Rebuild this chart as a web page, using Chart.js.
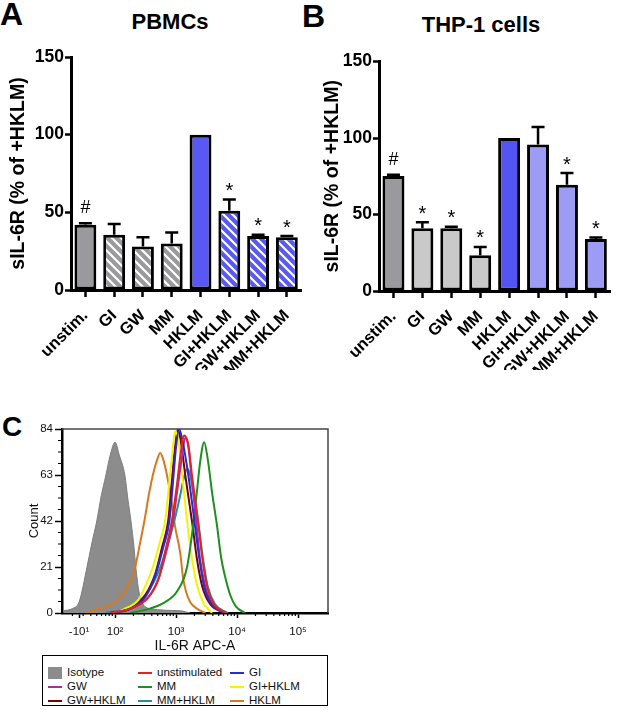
<!DOCTYPE html>
<html>
<head>
<meta charset="utf-8">
<script src="https://cdn.jsdelivr.net/npm/chart.js@4.4.0/dist/chart.umd.min.js"></script>
<style>
  body { margin: 0; background: #fff; width: 619px; height: 710px; position: relative; overflow: hidden; font-family: "Liberation Sans", Arial, sans-serif; color: #000; }
  .abs { position: absolute; }
  .letter { font-weight: bold; line-height: 1; }
  .ptitle { font-weight: bold; font-size: 22px; line-height: 24px; transform: translateX(-50%); white-space: nowrap; }
  #flow-legend { left: 42px; top: 655px; width: 286px; height: 51px; border: 1.5px solid #000; box-sizing: border-box; }
  #flow-legend .item { position: absolute; font-size: 11.5px; line-height: 14px; white-space: nowrap; color: #111; }
  #flow-legend .sw { display: inline-block; vertical-align: middle; margin-right: 5px; }
</style>
</head>
<body>
<div class="abs letter" style="left:0;top:-2px;font-size:32px;">A</div>
<div class="abs letter" style="left:302px;top:0;font-size:32px;">B</div>
<div class="abs letter" style="left:2px;top:413px;font-size:28px;">C</div>
<div class="abs ptitle" style="left:170px;top:10px;">PBMCs</div>
<div class="abs ptitle" style="left:481px;top:13px;">THP-1 cells</div>

<div class="abs" style="left:0;top:0;"><canvas id="chart-a" width="310" height="370"></canvas></div>
<div class="abs" style="left:310px;top:0;"><canvas id="chart-b" width="309" height="370"></canvas></div>
<div class="abs" style="left:0;top:405px;"><canvas id="chart-c" width="345" height="250"></canvas></div>
<div class="abs" id="flow-legend"></div>

<script>
// bar panels (A: PBMCs, B: THP-1 cells)
const conditions = ['unstim.', 'GI', 'GW', 'MM', 'HKLM', 'GI+HKLM', 'GW+HKLM', 'MM+HKLM'];
const pbmcMean = [42, 35.5, 28, 30, 100, 51, 34.8, 34];
const pbmcSem = [1, 7, 6, 7, 0, 7.3, 0.8, 0.7];
const pbmcMarks = ['#', '', '', '', '', '*', '*', '*'];
const thpMean = [75.2, 41, 41, 23.3, 100, 95.7, 69.5, 34];
const thpSem = [0.8, 4, 1, 5.5, 0, 11.5, 7.6, 1];
const thpMarks = ['#', '*', '*', '*', '', '', '*', '*'];
const barYTicks = [0, 50, 100, 150];

// flow histogram (panel C), x in decades of IL-6R APC-A
const flowXTicks = [1.41, 2, 3, 4, 5];
const flowXLabels = ['-10¹', '10²', '10³', '10⁴', '10⁵'];
const flowYTicks = [0, 21, 42, 63, 84];

const isotypeCurve = [[1.15,1],[1.30,2],[1.41,5],[1.54,21],[1.62,32],[1.70,42],[1.77,53],[1.85,63],[1.92,72],[2.00,78],[2.07,72],[2.16,63],[2.21,52],[2.26,42],[2.31,30],[2.34,21],[2.39,10],[2.44,5],[2.57,2],[3.07,1],[3.23,0]];
const unstimCurve = [[1.92,0],[2.25,2],[2.54,7],[2.72,16],[2.82,28],[2.93,42],[3.02,60],[3.08,74],[3.13,81],[3.20,77],[3.26,63],[3.36,42],[3.43,25],[3.51,12],[3.62,4],[3.82,0]];
const giCurve = [[1.92,0],[2.25,2],[2.49,7],[2.66,17],[2.79,30],[2.89,42],[2.95,60],[3.00,76],[3.05,84],[3.11,78],[3.20,63],[3.30,42],[3.38,25],[3.46,12],[3.59,4],[3.80,0]];
const gwCurve = [[1.92,0],[2.25,2],[2.54,7],[2.70,15],[2.84,28],[2.95,42],[3.03,58],[3.10,72],[3.15,80],[3.20,76],[3.25,63],[3.33,42],[3.39,25],[3.48,12],[3.59,4],[3.80,0]];
const mmCurve = [[2.25,0],[2.57,2],[2.82,5],[3.02,10],[3.18,21],[3.28,40],[3.34,55],[3.39,68],[3.46,78],[3.52,70],[3.59,55],[3.67,40],[3.74,25],[3.80,17],[3.89,8],[3.98,3],[4.13,0]];
const giHklmCurve = [[1.97,0],[2.16,2],[2.38,6],[2.49,12],[2.62,21],[2.74,33],[2.82,42],[2.90,63],[2.95,76],[2.98,83],[3.03,80],[3.10,63],[3.18,42],[3.26,25],[3.34,13],[3.44,5],[3.59,0]];
const gwHklmCurve = [[1.92,0],[2.25,2],[2.49,8],[2.66,18],[2.77,30],[2.87,42],[2.93,60],[2.98,75],[3.03,84],[3.08,78],[3.15,63],[3.26,42],[3.34,25],[3.43,12],[3.56,4],[3.80,0]];
const mmHklmCurve = [[1.84,0],[2.16,2],[2.49,8],[2.70,18],[2.85,30],[2.97,42],[3.07,54],[3.13,62],[3.18,66],[3.23,63],[3.30,52],[3.36,42],[3.44,25],[3.52,12],[3.64,4],[3.85,0]];
const hklmCurve = [[1.51,0],[1.75,2],[2.00,5],[2.16,10],[2.26,15],[2.33,21],[2.41,32],[2.48,42],[2.56,55],[2.62,63],[2.69,70],[2.74,73],[2.79,70],[2.85,63],[2.92,52],[2.98,40],[3.07,27],[3.11,17],[3.16,10],[3.23,5],[3.34,2],[3.48,0]];

const flowLabels = ['Isotype', 'unstimulated', 'GI', 'GW', 'MM', 'GI+HKLM', 'GW+HKLM', 'MM+HKLM', 'HKLM'];
const flowCurves = [isotypeCurve, unstimCurve, giCurve, gwCurve, mmCurve, giHklmCurve, gwHklmCurve, mmHklmCurve, hklmCurve];
const flowColors = ['#8c8c8c', '#e02424', '#2b2bd0', '#a032a0', '#1f8f1f', '#f4f400', '#7a0000', '#2a8c94', '#d9791e'];

Chart.defaults.font.family = "'Liberation Sans', Arial, sans-serif";
Chart.defaults.color = '#000';

function stripes(base) {
  // white diagonal hatching like the GraphPad fill
  const c = document.createElement('canvas');
  c.width = 9; c.height = 9;
  const g = c.getContext('2d');
  g.fillStyle = base;
  g.fillRect(0, 0, 9, 9);
  g.strokeStyle = '#fff';
  g.lineWidth = 2.2;
  g.beginPath();
  g.moveTo(-2, -2); g.lineTo(11, 11);
  g.moveTo(-2, 7); g.lineTo(2, 11);
  g.moveTo(7, -2); g.lineTo(11, 2);
  g.stroke();
  return g.createPattern(c, 'repeat');
}

const errorBarPlugin = {
  id: 'errorBars',
  afterDatasetsDraw(chart, args, opts) {
    const meta = chart.getDatasetMeta(0);
    const y = chart.scales.y;
    const ctx = chart.ctx;
    const means = chart.data.datasets[0].data;
    ctx.save();
    ctx.strokeStyle = '#000';
    ctx.lineWidth = 2.5;
    ctx.fillStyle = '#000';
    ctx.textAlign = 'center';
    ctx.textBaseline = 'bottom';
    meta.data.forEach((bar, i) => {
      const sem = opts.sems[i];
      const yTop = y.getPixelForValue(means[i] + sem);
      if (sem > 0) {
        ctx.beginPath();
        ctx.moveTo(bar.x, bar.y);
        ctx.lineTo(bar.x, yTop);
        ctx.moveTo(bar.x - 6.5, yTop);
        ctx.lineTo(bar.x + 6.5, yTop);
        ctx.stroke();
      }
      const mark = opts.marks[i];
      if (mark) {
        ctx.font = mark === '#' ? "18px 'Liberation Sans', Arial" : "20px 'Liberation Sans', Arial";
        ctx.fillText(mark, bar.x, yTop - (mark === '#' ? 6 : -2));
      }
    });
    ctx.restore();
  }
};

function makeBarChart(id, means, sems, marks, fills, lay) {
  return new Chart(document.getElementById(id), {
    type: 'bar',
    data: {
      labels: conditions,
      datasets: [{
        data: means,
        backgroundColor: fills,
        borderColor: '#000',
        borderWidth: 3,
        borderSkipped: false,
        barPercentage: 0.76,
        categoryPercentage: 1
      }]
    },
    options: {
      responsive: false,
      animation: false,
      layout: { padding: lay.padding },
      plugins: {
        legend: { display: false },
        tooltip: { enabled: false },
        errorBars: { sems, marks }
      },
      scales: {
        x: {
          grid: { offset: false, drawOnChartArea: false, tickLength: 7, tickWidth: 2.5, tickColor: '#000' },
          border: { color: '#000', width: 3 },
          ticks: { color: '#000', font: { size: 16.5, weight: 'bold' }, minRotation: 45, maxRotation: 45, autoSkip: false, padding: 9 },
          afterFit: s => { s.height = lay.xHeight; }
        },
        y: {
          min: 0,
          max: 150,
          afterBuildTicks: s => { s.ticks = barYTicks.map(v => ({ value: v })); },
          title: { display: true, text: 'sIL-6R (% of +HKLM)', color: '#000', font: { size: 19.5, weight: 'bold' }, padding: { top: 1, bottom: 0 } },
          grid: { drawOnChartArea: false, tickLength: 6, tickWidth: 2.5, tickColor: '#000' },
          border: { color: '#000', width: 3 },
          ticks: { color: '#000', font: { size: 17.5, weight: 'bold' }, padding: 1 },
          afterFit: s => { s.width = lay.yWidth; }
        }
      }
    },
    plugins: [errorBarPlugin]
  });
}

const grayA = '#9a9a9e', blueA = '#5858f5';
makeBarChart('chart-a', pbmcMean, pbmcSem, pbmcMarks,
  [grayA, stripes(grayA), stripes(grayA), stripes(grayA), blueA, stripes(blueA), stripes(blueA), stripes(blueA)],
  { padding: { left: 6, right: 2, top: 57, bottom: 0 }, yWidth: 65, xHeight: 80 });

makeBarChart('chart-b', thpMean, thpSem, thpMarks,
  ['#9a9a9e', '#c9c9c9', '#c9c9c9', '#c9c9c9', '#5454f2', '#9c9cf6', '#9c9cf6', '#9c9cf6'],
  { padding: { left: 10, right: 2, top: 61.5, bottom: 0 }, yWidth: 59, xHeight: 79 });

const flowFrame = {
  id: 'flowFrame',
  afterDraw(chart) {
    const { ctx, chartArea: a, scales: { x, y } } = chart;
    ctx.save();
    ctx.strokeStyle = '#444';
    ctx.lineWidth = 1.5;
    ctx.beginPath();
    ctx.moveTo(a.left, a.top);
    ctx.lineTo(a.right, a.top);
    ctx.lineTo(a.right, a.bottom);
    ctx.stroke();
    // minor ticks
    ctx.strokeStyle = '#000';
    ctx.lineWidth = 1.2;
    ctx.beginPath();
    for (let v = 0; v <= 84; v += 5.25) {
      if (v % 21 === 0) continue;
      const py = y.getPixelForValue(v);
      ctx.moveTo(a.left - 4, py);
      ctx.lineTo(a.left, py);
    }
    for (let d = 1; d <= 4; d++) {
      for (let k = 2; k <= 9; k++) {
        const v = d + Math.log10(k);
        if (v < x.min) continue;
        const px = x.getPixelForValue(v);
        ctx.moveTo(px, a.bottom);
        ctx.lineTo(px, a.bottom + 3);
      }
    }
    ctx.stroke();
    ctx.restore();
  }
};

const flowDatasets = flowCurves.map((curve, i) => ({
  label: flowLabels[i],
  data: curve,
  borderColor: i === 0 ? '#7c7c7c' : flowColors[i],
  backgroundColor: flowColors[i],
  borderWidth: i === 0 ? 1 : 2,
  fill: i === 0 ? 'origin' : false,
  pointRadius: 0,
  cubicInterpolationMode: 'monotone',
  order: i === 0 ? 10 : 0
}));

new Chart(document.getElementById('chart-c'), {
  type: 'line',
  data: { datasets: flowDatasets },
  options: {
    responsive: false,
    animation: false,
    layout: { padding: { left: 27, right: 17, top: 24, bottom: 0 } },
    plugins: { legend: { display: false }, tooltip: { enabled: false } },
    scales: {
      x: {
        type: 'linear',
        min: 1.13,
        max: 5.49,
        afterBuildTicks: s => { s.ticks = flowXTicks.map(v => ({ value: v })); },
        ticks: { color: '#111', font: { size: 11.5 }, padding: 7, callback: v => flowXLabels[flowXTicks.indexOf(v)] },
        title: { display: true, text: 'IL-6R APC-A', color: '#111', font: { size: 14 }, padding: 0 },
        grid: { drawOnChartArea: false, tickLength: 5, tickWidth: 1.5, tickColor: '#000' },
        border: { color: '#000', width: 2.5 },
        afterFit: s => { s.height = 42; }
      },
      y: {
        min: 0,
        max: 84,
        afterBuildTicks: s => { s.ticks = flowYTicks.map(v => ({ value: v })); },
        ticks: { color: '#111', font: { size: 11.5 }, padding: 2 },
        title: { display: true, text: 'Count', color: '#111', font: { size: 13 }, padding: 0 },
        grid: { drawOnChartArea: false, tickLength: 7, tickWidth: 1.5, tickColor: '#000' },
        border: { color: '#000', width: 2.5 },
        afterFit: s => { s.width = 35; }
      }
    }
  },
  plugins: [flowFrame]
});

// legend for panel C, three columns like the cytometer export
function buildFlowLegend() {
  const box = document.getElementById('flow-legend');
  const colX = [5, 95, 187];
  flowLabels.forEach((label, i) => {
    const item = document.createElement('div');
    item.className = 'item';
    item.style.left = colX[i % 3] + 'px';
    item.style.top = (9 + Math.floor(i / 3) * 14) + 'px';
    const sw = document.createElement('span');
    sw.className = 'sw';
    if (i === 0) {
      sw.style.width = '14px'; sw.style.height = '12px'; sw.style.background = flowColors[0];
    } else {
      sw.style.width = '14px'; sw.style.height = '2px'; sw.style.background = flowColors[i];
    }
    item.appendChild(sw);
    item.appendChild(document.createTextNode(label));
    box.appendChild(item);
  });
}
buildFlowLegend();
</script>
</body>
</html>
